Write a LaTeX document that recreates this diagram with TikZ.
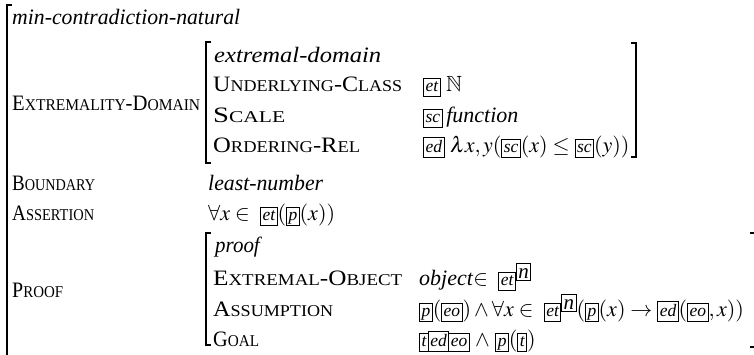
\documentclass[tikz,border=0pt]{standalone}
\usepackage{graphicx}
\usepackage{mathptmx}
\usepackage{amssymb}
\usepackage{fontspec}
\setmainfont{Liberation Serif}
\newcommand\SCp[2]{#1{\fontsize{16.5}{18}\selectfont #2}}
\newcommand\fitto[2]{\resizebox{#1pt}{\height}{#2}}
\newcommand\tg[1]{\mbox{\setlength\fboxsep{1.5pt}\setlength\fboxrule{0.9pt}\fbox{\fontsize{17.5}{17.5}\selectfont\itshape\rule[-3.5pt]{0pt}{14pt}#1}}}
\newcommand\tgn[1]{\mbox{\setlength\fboxsep{1.5pt}\setlength\fboxrule{0.9pt}\fbox{\fontsize{21}{21}\selectfont\itshape\rule{0pt}{13pt}#1}}}
\begin{document}
\begin{tikzpicture}[x=1pt,y=-1pt,
  lbl/.style={anchor=base west, inner sep=0pt, font=\fontsize{22}{26}\selectfont},
  brk/.style={line width=1.8pt, line cap=butt}]
\useasboundingbox (0,0) rectangle (754,354);
% outer bracket
\draw[brk] (12,5) -- (7,5) -- (7,360);
% inner bracket 1
\draw[brk] (211,42) -- (206,42) -- (206,163) -- (211,163);
\draw[brk] (631,43) -- (636,43) -- (636,157) -- (631,157);
% inner bracket 2
\draw[brk] (211,233) -- (206,233) -- (206,345) -- (211,345);
\draw[brk] (750,233) -- (756,233) -- (756,347) -- (750,347);
% outer content
\node[lbl] (type) at (12,24) {\fitto{228}{\textit{min-contradiction-natural}}};
\node[lbl] (ed) at (12,110) {\fitto{188}{\SCp{E}{XTREMALITY}-\SCp{D}{OMAIN}}};
\node[lbl] (bd) at (12,190) {\fitto{83}{\SCp{B}{OUNDARY}}};
\node[lbl] (as) at (12,220) {\fitto{82}{\SCp{A}{SSERTION}}};
\node[lbl] (pr) at (12,297) {\fitto{51}{\SCp{P}{ROOF}}};
% inner 1
\node[lbl] (edt) at (214,62) {\fitto{167}{\textit{extremal-domain}}};
\node[lbl] (uc) at (213,91) {\fitto{189}{\SCp{U}{NDERLYING}-\SCp{C}{LASS}}};
\node[lbl] (sc) at (213,122) {\fitto{72}{\SCp{S}{CALE}}};
\node[lbl] (or) at (213,152) {\fitto{147}{\SCp{O}{RDERING}-\SCp{R}{EL}}};
\node[lbl] (ucv) at (423,91) {\tg{et} $\mathbb{N}$};
\node[lbl] (scv) at (423,122) {\tg{sc}\,\textit{function}};
\node[lbl] (orv) at (423,152) {\tg{ed} $\lambda x, y(\tg{sc}(x) \le \tg{sc}(y))$};
% boundary/assertion values
\node[lbl] (bdv) at (208,190) {\fitto{115}{\textit{least-number}}};
\node[lbl] (asv) at (208,220) {$\forall x \in\ \tg{et}(\tg{p}(x))$};
% inner 2
\node[lbl] (prt) at (215,252) {\fitto{47}{\textit{proof}}};
\node[lbl] (eo) at (213,285) {\fitto{189}{\SCp{E}{XTREMAL}-\SCp{O}{BJECT}}};
\node[lbl] (au) at (213,316) {\fitto{120}{\SCp{A}{SSUMPTION}}};
\node[lbl] (go) at (213,346) {\fitto{46}{\SCp{G}{OAL}}};
\node[lbl] (eov) at (419,285) {\textit{object}$\in\ \tg{et}\raisebox{7pt}{\tgn{n}}$};
\node[lbl] (auv) at (419,316) {$\tg{p}(\tg{eo}) \wedge \forall x \in\ \tg{et}\raisebox{7pt}{\tgn{n}}(\tg{p}(x) \to \tg{ed}(\tg{eo}, x))$};
\node[lbl] (gov) at (419,346) {\tg{t}\hspace{-0.9pt}\tg{ed}\hspace{-0.9pt}\tg{eo} $\wedge$ $\tg{p}(\tg{t})$};
\end{tikzpicture}
\end{document}
